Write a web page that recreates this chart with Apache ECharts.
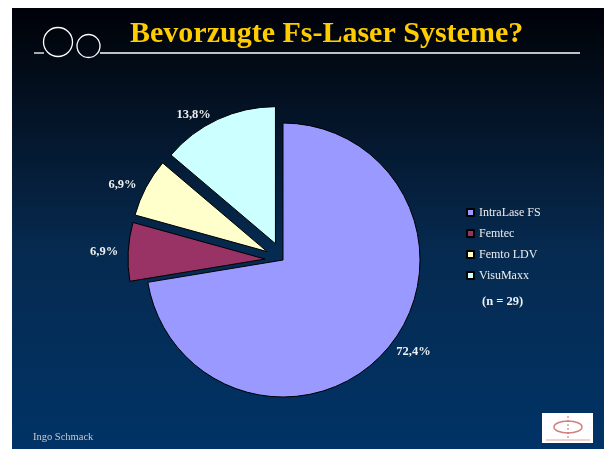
<!DOCTYPE html>
<html><head><meta charset="utf-8">
<script src="https://cdn.jsdelivr.net/npm/echarts@6/dist/echarts.min.js"></script>
<style>html,body{margin:0;padding:0;background:#fff}#c{width:604px;height:449px}</style>
</head><body><div id="c"></div>
<script>
var categories = ['IntraLase FS', 'Femtec', 'Femto LDV', 'VisuMaxx'];
var shares = [72.4, 6.9, 6.9, 13.8];
var exploded = [false, true, true, true];
var colors = ['#9999FF', '#993366', '#FFFFCC', '#CCFFFF'];
var titleText = 'Bevorzugte Fs-Laser Systeme?';
var noteText = '(n = 29)';
var authorText = 'Ingo Schmack';

var chart = echarts.init(document.getElementById('c'), null, {renderer: 'canvas'});
var serif = '"Liberation Serif", "DejaVu Serif", serif';
var data = categories.map(function (c, i) {
  return {name: c, value: shares[i], selected: exploded[i], itemStyle: {color: colors[i]}};
});
chart.setOption({
  animation: false,
  graphic: [
    {type: 'rect', z: -10, silent: true, shape: {x: 12, y: 8, width: 592, height: 441},
     style: {fill: new echarts.graphic.LinearGradient(0, 0, 0, 1, [
       {offset: 0, color: '#00000a'},
       {offset: 0.06, color: '#01060e'},
       {offset: 0.25, color: '#041428'},
       {offset: 0.55, color: '#062a50'},
       {offset: 1, color: '#003366'}])}},
    {type: 'circle', z: 5, shape: {cx: 58, cy: 42, r: 14.5}, style: {fill: 'none', stroke: '#ffffff', lineWidth: 1.3}},
    {type: 'circle', z: 5, shape: {cx: 88.5, cy: 46, r: 11.5}, style: {fill: 'none', stroke: '#ffffff', lineWidth: 1.3}},
    {type: 'line', z: 5, shape: {x1: 34, y1: 53, x2: 44, y2: 53}, style: {stroke: '#ffffff', lineWidth: 1.3}},
    {type: 'line', z: 5, shape: {x1: 100, y1: 53, x2: 580, y2: 53}, style: {stroke: '#ffffff', lineWidth: 1.3}},
    {type: 'text', z: 5, left: 130, top: 19, style: {text: titleText, fill: '#FFCC00', font: 'bold 30px ' + serif}},
    {type: 'text', z: 5, left: 33, top: 432, style: {text: authorText, fill: '#c8c8c8', font: '10.5px ' + serif}},
    {type: 'text', z: 5, left: 482, top: 295, style: {text: noteText, fill: '#f0f0f0', font: 'bold 12.5px ' + serif}},
    {type: 'rect', z: 5, shape: {x: 542, y: 413, width: 51, height: 30}, style: {fill: '#ffffff'}},
    {type: 'ellipse', z: 6, shape: {cx: 568, cy: 427, rx: 14, ry: 6}, style: {fill: 'none', stroke: '#d08080', lineWidth: 1.5}},
    {type: 'line', z: 6, shape: {x1: 568, y1: 416, x2: 568, y2: 438}, style: {stroke: '#cc6666', lineWidth: 1, lineDash: [2, 2]}},
    {type: 'line', z: 6, shape: {x1: 546, y1: 440, x2: 590, y2: 440}, style: {stroke: '#e0a0a0', lineWidth: 1}}
  ],
  legend: {
    orient: 'vertical', left: 461, top: 201,
    itemWidth: 7, itemHeight: 7, itemGap: 8,
    icon: 'rect',
    textStyle: {color: '#eeeeee', fontFamily: serif, fontSize: 12, lineHeight: 13},
    selectedMode: false,
    data: categories
  },
  series: [{
    type: 'pie',
    center: [283, 260],
    radius: [0, 137],
    startAngle: 90,
    clockwise: true,
    selectedMode: 'multiple',
    selectedOffset: 18,
    avoidLabelOverlap: false,
    emphasis: {disabled: true},
    itemStyle: {borderColor: '#000000', borderWidth: 1},
    label: {
      show: true, position: 'outside', color: '#f0f0f0',
      fontFamily: serif, fontWeight: 'bold', fontSize: 12.5,
      formatter: function (p) { return p.value.toFixed(1).replace('.', ',') + '%'; }
    },
    labelLine: {show: false, length: 5, length2: 0},
    data: data
  }]
});
</script></body></html>
